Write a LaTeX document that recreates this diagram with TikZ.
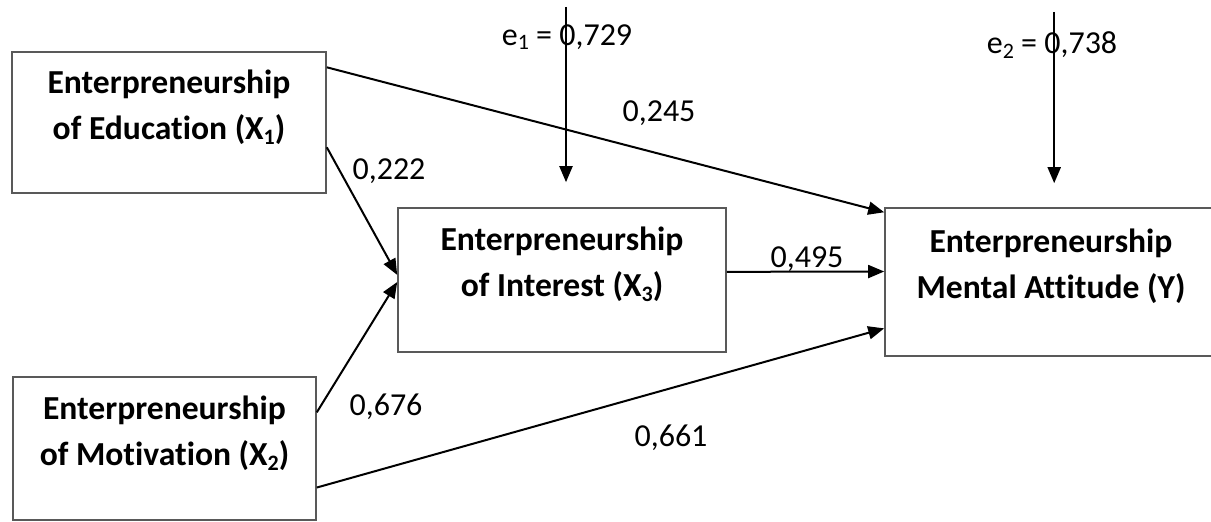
\documentclass[tikz,border=0pt]{standalone}
\usepackage{fontspec}
\setmainfont{Carlito}[Ligatures=NoCommon]
\usetikzlibrary{positioning,calc,arrows.meta}

\newcommand{\lowidx}[1]{\raisebox{-0.3ex}{\fontsize{11}{11}\selectfont #1}}

\begin{document}
\begin{tikzpicture}[
  x=0.5pt, y=-0.5pt,
  font=\fontsize{16}{21.5}\selectfont,
  construct/.style={
    draw=black!65,
    line width=0.8pt,
    align=center,
    inner sep=0pt,
    text depth=18pt,
    font=\fontsize{16.8}{23}\selectfont\bfseries
  },
  effect/.style={-{Triangle[length=8pt,width=6.5pt]}, line width=1pt},
  coef/.style={inner sep=0pt}
]
\useasboundingbox (0,0) rectangle (1211,522);

% --- Constructs ---
\node[construct, minimum width=157pt, minimum height=70.5pt] (edu) at (169,122.5)
  {Enterpreneurship\\of Education (X\lowidx{1})};
\node[construct, minimum width=151.5pt, minimum height=71.5pt] (mot) at (164.5,448.5)
  {Enterpreneurship\\of Motivation (X\lowidx{2})};
\node[construct, minimum width=164pt, minimum height=72pt] (int) at (562,280)
  {Enterpreneurship\\of Interest (X\lowidx{3})};
\node[construct, minimum width=166pt, minimum height=74pt] (att) at (1051,282)
  {Enterpreneurship\\Mental Attitude (Y)};

% --- Path coefficients ---
\node[coef] (c222) at (389,171) {0,222};
\node[coef] (c245) at (659,113) {0,245};
\node[coef] (c495) at (807,259) {0,495};
\node[coef] (c676) at (386,407) {0,676};
\node[coef] (c661) at (671,438) {0,661};

% --- Residuals ---
\node[coef] (e1) at (567,37) {e\lowidx{1} = 0,729};
\node[coef] (e2) at (1052,45) {e\lowidx{2} = 0,738};

% --- Paths ---
\draw[effect] ($(edu.north east)!0.113!(edu.south east)$) -- ($(att.north west)!0.034!(att.south west)$);
\draw[effect] ($(edu.north east)!0.674!(edu.south east)$) -- ($(int.north west)!0.465!(int.south west)$);
\draw[effect] ($(mot.north east)!0.25!(mot.south east)$) -- ($(int.north west)!0.514!(int.south west)$);
\draw[effect] ($(mot.north east)!0.77!(mot.south east)$) -- ($(att.north west)!0.81!(att.south west)$);
\draw[effect] ($(int.north east)!0.444!(int.south east)$) -- ($(att.north west)!0.43!(att.south west)$);

% error terms
\coordinate (e1tip) at ($(int.north)+(4,-25)$);
\coordinate (e1top) at (e1tip |- 0,7);
\draw[effect] (e1top) -- (e1tip);
\coordinate (e2tip) at ($(att.north west)+(170,-24)$);
\coordinate (e2top) at (e2tip |- 0,12);
\draw[effect] (e2top) -- (e2tip);

\end{tikzpicture}
\end{document}
